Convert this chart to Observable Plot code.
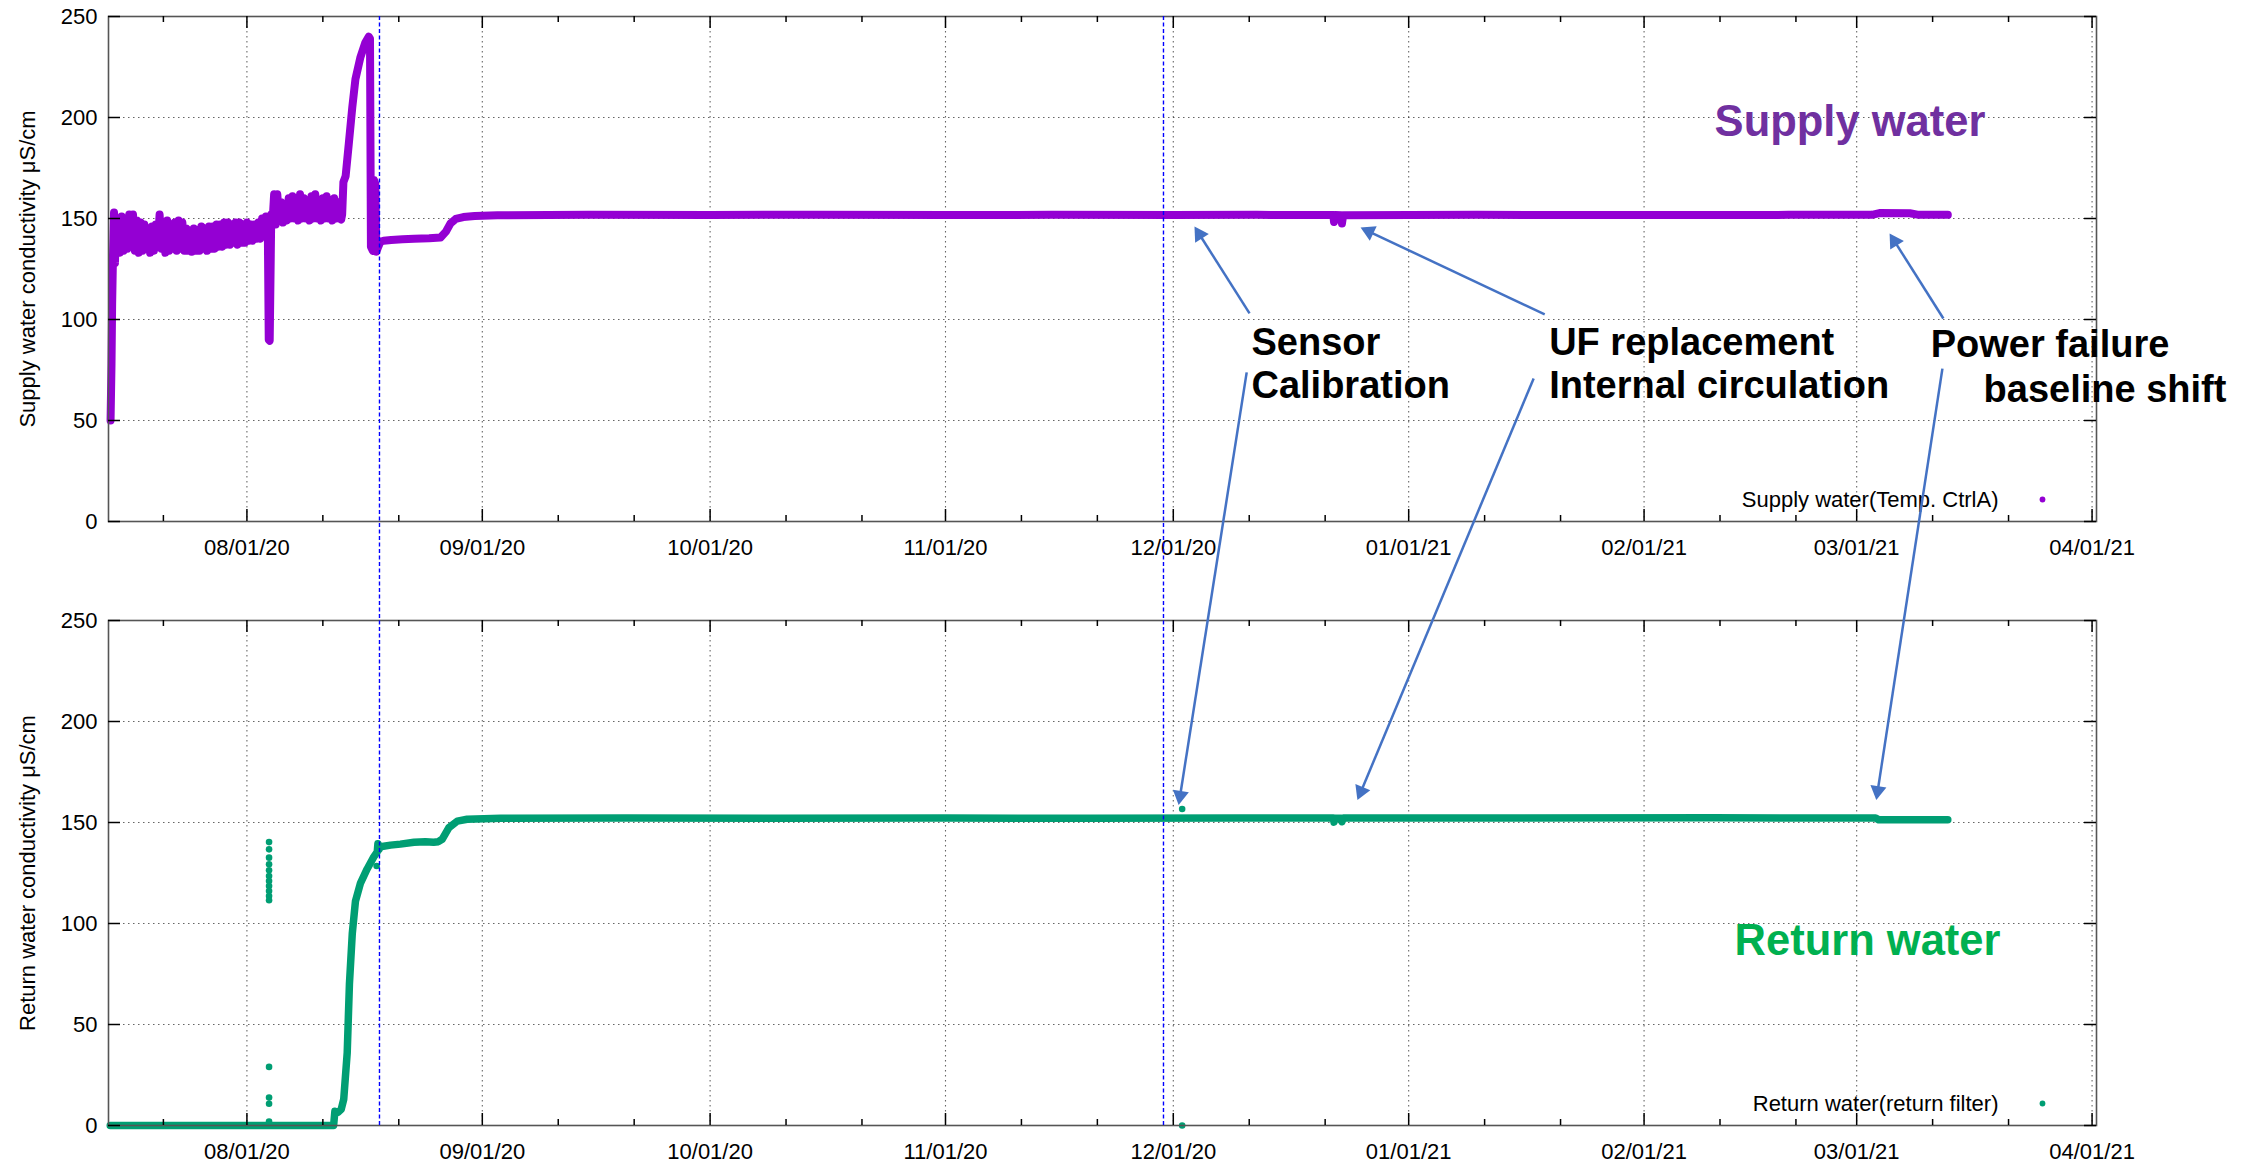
<!DOCTYPE html>
<html>
<head>
<meta charset="utf-8">
<script src="https://cdn.jsdelivr.net/npm/d3@7"></script>
<script src="https://cdn.jsdelivr.net/npm/@observablehq/plot@0.6"></script>
<style>
  html, body { margin: 0; padding: 0; background: #fff; overflow: hidden; }
  #chart { position: relative; width: 2262px; height: 1164px; }
  #chart svg { position: absolute; left: 0; top: 0; }
</style>
</head>
<body>
<div id="chart"></div>
<script>
const parseTime = d3.utcParse("%Y-%m-%d %H:%M");
const parseDay = d3.utcParse("%Y-%m-%d");

// Supply water conductivity, Temp. CtrlA sensor (µS/cm)
const supplyTime = [
  "2020-07-14 01:00","2020-07-14 04:00","2020-07-14 06:00","2020-07-14 09:00","2020-07-14 12:00","2020-07-14 15:00","2020-07-14 18:00","2020-07-14 21:00",
  "2020-07-15 00:00","2020-07-15 06:00","2020-07-15 12:00","2020-07-15 18:00",
  "2020-07-16 00:00","2020-07-16 06:00","2020-07-16 12:00","2020-07-16 18:00",
  "2020-07-17 00:00","2020-07-17 06:00","2020-07-17 12:00","2020-07-17 18:00",
  "2020-07-18 00:00","2020-07-18 06:00","2020-07-18 12:00","2020-07-18 18:00",
  "2020-07-19 00:00","2020-07-19 06:00","2020-07-19 12:00","2020-07-19 18:00",
  "2020-07-20 00:00","2020-07-20 06:00","2020-07-20 12:00","2020-07-20 18:00",
  "2020-07-21 00:00","2020-07-21 06:00","2020-07-21 12:00","2020-07-21 18:00",
  "2020-07-22 00:00","2020-07-22 06:00","2020-07-22 12:00","2020-07-22 18:00",
  "2020-07-23 00:00","2020-07-23 06:00","2020-07-23 12:00","2020-07-23 18:00",
  "2020-07-24 00:00","2020-07-24 06:00","2020-07-24 12:00","2020-07-24 18:00",
  "2020-07-25 00:00","2020-07-25 06:00","2020-07-25 12:00","2020-07-25 18:00",
  "2020-07-26 00:00","2020-07-26 06:00","2020-07-26 12:00","2020-07-26 18:00",
  "2020-07-27 00:00","2020-07-27 06:00","2020-07-27 12:00","2020-07-27 18:00",
  "2020-07-28 00:00","2020-07-28 06:00","2020-07-28 12:00","2020-07-28 18:00",
  "2020-07-29 00:00","2020-07-29 06:00","2020-07-29 12:00","2020-07-29 18:00",
  "2020-07-30 00:00","2020-07-30 06:00","2020-07-30 12:00","2020-07-30 18:00",
  "2020-07-31 00:00","2020-07-31 06:00","2020-07-31 12:00","2020-07-31 18:00",
  "2020-08-01 00:00","2020-08-01 06:00","2020-08-01 12:00","2020-08-01 18:00",
  "2020-08-02 00:00","2020-08-02 06:00","2020-08-02 12:00","2020-08-02 18:00",
  "2020-08-03 00:00","2020-08-03 06:00","2020-08-03 12:00","2020-08-03 18:00","2020-08-03 21:00",
  "2020-08-04 00:00","2020-08-04 05:00","2020-08-04 09:00","2020-08-04 14:00","2020-08-04 19:00",
  "2020-08-05 00:00","2020-08-05 06:00","2020-08-05 12:00","2020-08-05 18:00",
  "2020-08-06 00:00","2020-08-06 06:00","2020-08-06 12:00","2020-08-06 18:00",
  "2020-08-07 00:00","2020-08-07 06:00","2020-08-07 12:00","2020-08-07 18:00",
  "2020-08-08 00:00","2020-08-08 06:00","2020-08-08 12:00","2020-08-08 18:00",
  "2020-08-09 00:00","2020-08-09 06:00","2020-08-09 12:00","2020-08-09 18:00",
  "2020-08-10 00:00","2020-08-10 06:00","2020-08-10 12:00","2020-08-10 18:00",
  "2020-08-11 00:00","2020-08-11 06:00","2020-08-11 12:00","2020-08-11 18:00",
  "2020-08-12 00:00","2020-08-12 06:00","2020-08-12 12:00","2020-08-12 18:00",
  "2020-08-13 00:00","2020-08-13 06:00","2020-08-13 10:00","2020-08-13 13:00","2020-08-13 17:00",
  "2020-08-14 00:00","2020-08-14 10:00","2020-08-14 21:00","2020-08-15 07:00","2020-08-15 23:00",
  "2020-08-16 14:00","2020-08-17 01:00","2020-08-17 05:00","2020-08-17 08:00","2020-08-17 14:00","2020-08-17 18:00","2020-08-17 22:00",
  "2020-08-18 01:00","2020-08-18 07:00","2020-08-18 14:00","2020-08-19 00:00","2020-08-20 00:00","2020-08-21 12:00","2020-08-23 00:00",
  "2020-08-25 00:00","2020-08-26 12:00","2020-08-27 05:00","2020-08-27 19:00","2020-08-28 12:00","2020-08-29 12:00","2020-08-31 00:00",
  "2020-09-03 00:00","2020-09-15 00:00","2020-10-01 00:00","2020-10-15 00:00","2020-11-01 00:00","2020-11-15 00:00","2020-12-01 00:00",
  "2020-12-12 00:00","2020-12-22 02:00","2020-12-22 04:00","2020-12-22 08:00","2020-12-23 03:00","2020-12-23 05:00","2020-12-23 09:00",
  "2021-01-10 00:00","2021-02-01 00:00","2021-02-20 00:00","2021-03-03 00:00","2021-03-04 00:00","2021-03-08 00:00","2021-03-09 00:00",
  "2021-03-13 00:00"
];
const supplyValue = [
  50, 78, 108, 134, 153, 128, 150, 134,
  146, 133, 151, 134,
  149, 135, 152, 136,
  152, 134, 149, 133,
  148, 134, 147, 135,
  145, 133, 146, 134,
  147, 136, 152, 135,
  148, 133, 149, 134,
  147, 135, 148, 134,
  149, 135, 148, 134,
  145, 134, 144, 133.5,
  145, 134, 144, 134,
  146, 135, 145, 134,
  146, 135, 146, 135,
  147, 136, 147, 136,
  148, 137, 148, 137,
  147, 138, 148, 137,
  148, 138, 147, 138,
  148, 139, 147, 139,
  147, 140, 148, 140,
  150, 142, 151, 146, 90,
  89.5, 152, 148, 162, 147,
  162, 149, 158, 148,
  157, 149, 160, 150,
  161, 150, 159, 149,
  162, 150, 160, 150,
  159, 149, 161, 150,
  162, 150, 158, 149,
  160, 150, 161, 150,
  159, 149, 160, 150,
  158, 150, 149.5, 152, 168,
  171, 187, 205, 219, 230,
  237, 240, 239, 136, 134, 169, 167,
  133.5, 136, 138.5, 139, 139.4, 139.7, 140,
  140.2, 140.6, 143.5, 147.5, 149.8, 150.7, 151.2,
  151.6, 151.8, 151.7, 151.9, 151.7, 151.8, 151.7,
  151.8, 151.7, 148.3, 151.7, 151.6, 147.5, 151.6,
  151.8, 151.7, 151.8, 151.8, 152.7, 152.6, 151.9,
  151.8
];

// Return water conductivity, return filter sensor (µS/cm)
const returnTime = [
  "2020-07-14 00:00","2020-08-12 10:00","2020-08-12 14:00","2020-08-13 00:00","2020-08-13 10:00","2020-08-13 18:00",
  "2020-08-14 05:00","2020-08-14 12:00","2020-08-14 21:00","2020-08-15 07:00","2020-08-15 23:00","2020-08-16 20:00",
  "2020-08-17 17:00","2020-08-18 04:00","2020-08-18 06:00","2020-08-18 09:00","2020-08-18 14:00","2020-08-19 22:00",
  "2020-08-21 05:00","2020-08-23 00:00","2020-08-24 12:00","2020-08-25 14:00","2020-08-26 05:00","2020-08-26 17:00",
  "2020-08-27 14:00","2020-08-28 17:00","2020-08-30 00:00","2020-09-03 10:00","2020-09-20 00:00","2020-10-10 00:00",
  "2020-11-01 00:00","2020-11-20 00:00","2020-12-10 00:00","2020-12-22 02:00","2020-12-22 04:00","2020-12-22 08:00",
  "2020-12-23 03:00","2020-12-23 05:00","2020-12-23 09:00","2021-01-15 00:00","2021-02-10 00:00","2021-03-03 12:00",
  "2021-03-03 22:00","2021-03-13 00:00"
];
const returnValue = [
  0, 0, 7, 6.5, 8, 13,
  36, 70, 95, 111, 120, 127,
  133, 135.5, 139.5, 136.5, 138, 138.8,
  139.3, 140.2, 140.5, 140.2, 140.5, 141.7,
  147.4, 150.7, 151.6, 152.1, 152.2, 152.1,
  152.2, 152.1, 152.2, 152.2, 150.2, 152.1,
  152.1, 150.4, 152.2, 152.2, 152.3, 152.2,
  151.3, 151.3
];

// Isolated return-water readings
const returnSpotTime = [
  "2020-08-03 22:00","2020-08-03 22:00","2020-08-03 22:00","2020-08-03 22:00","2020-08-03 22:00","2020-08-03 22:00",
  "2020-08-03 22:00","2020-08-03 22:00","2020-08-03 22:00","2020-08-03 22:00","2020-08-03 22:00","2020-08-03 22:00",
  "2020-08-03 22:00","2020-08-03 22:00","2020-08-03 22:00","2020-08-18 02:00","2020-12-02 04:00","2020-12-02 04:00"
];
const returnSpotValue = [
  140.3, 136.7, 132.6, 129.3, 126.3, 123.5,
  121, 118.6, 116.1, 113.6, 111.5, 29,
  13.8, 10.8, 1.9, 128.5, 156.7, 0
];

// Dates marked by the dashed vertical lines
const eventTime = ["2020-08-18 11:00", "2020-11-29 17:00"];

// Axis ticks
const monthTicks = ["2020-08-01","2020-09-01","2020-10-01","2020-11-01","2020-12-01","2021-01-01","2021-02-01","2021-03-01","2021-04-01"];
const monthLabels = ["08/01/20","09/01/20","10/01/20","11/01/20","12/01/20","01/01/21","02/01/21","03/01/21","04/01/21"];
const yTicks = [0, 50, 100, 150, 200, 250];
const yGrid = [50, 100, 150, 200];

// Callouts: arrows from the notes to the events they describe
const arrowFromTime = ["2020-12-11 01:00","2021-01-18 22:00","2021-03-12 10:00","2020-12-10 16:00","2021-01-17 11:00","2021-03-12 07:00"];
const arrowFromValue = [103, 102.5, 100.5, 73.8, 70.8, 75.7];
const arrowToTime = ["2020-12-03 19:00","2020-12-25 16:00","2021-03-05 08:00","2020-12-01 17:00","2020-12-25 06:00","2021-03-03 14:00"];
const arrowToValue = [146, 145.5, 142.6, 158.7, 161.1, 161.1];
const arrowToPanel = ["supply","supply","supply","return","return","return"];

const noteText = ["Sensor","Calibration","UF replacement","Internal circulation","Power failure","baseline shift"];
const noteTime = ["2020-12-11 07:00","2020-12-11 07:00","2021-01-19 12:00","2021-01-19 12:00","2021-03-10 18:00","2021-03-17 17:00"];
const noteValue = [82.2, 60.9, 82.2, 60.9, 81.3, 59.1];

// ---- layout ----
const W = 2262, H = 1164;
const FRAME_LEFT = 108, FRAME_RIGHT = 2096;
const TOP = {top: 16, bottom: 521};
const BOT = {top: 620, bottom: 1125};
const FRAME_W = FRAME_RIGHT - FRAME_LEFT;
const FRAME_H = TOP.bottom - TOP.top;
const pxPerUnit = FRAME_H / 250;
const panelShift = (BOT.top - TOP.top) / pxPerUnit;   // return-panel value offset in supply-panel units

const xDomain = [parseTime("2020-07-13 18:30"), parseTime("2021-04-01 14:00")];
const FONT = "'Liberation Sans', Arial, sans-serif";
const SUPPLY = "#9400d3", RETURN = "#009e73", ARROW = "#4472c4";

const months = monthTicks.map(parseDay);
const labelOf = new Map(months.map((m, i) => [+m, monthLabels[i]]));
const minorTicks = [parseDay("2020-07-21")].concat(
  months.slice(0, -1).flatMap(m => [d3.utcDay.offset(m, 10), d3.utcDay.offset(m, 20)])
);

const supplyRows = supplyTime.map((t, i) => ({time: parseTime(t), value: supplyValue[i]}));
const returnRows = returnTime.map((t, i) => ({time: parseTime(t), value: returnValue[i]}));
const spotRows = returnSpotTime.map((t, i) => ({time: parseTime(t), value: returnSpotValue[i]}));
const eventRows = eventTime.map(parseTime);

// pixel scales matching the panel geometry, used to orient the arrowheads
const xPix = d3.scaleUtc(xDomain, [FRAME_LEFT, FRAME_RIGHT]);
const yPix = d3.scaleLinear([0, 250], [TOP.bottom, TOP.top]);
const HEAD_R = 6;
const headOffset = 2 * Math.sqrt(Math.PI * HEAD_R * HEAD_R / (3 * Math.sqrt(3)));
const arrowRows = arrowFromTime.map((t, i) => {
  const t1 = parseTime(t), v1 = arrowFromValue[i];
  const t2 = parseTime(arrowToTime[i]);
  const v2 = arrowToPanel[i] === "return" ? arrowToValue[i] - panelShift : arrowToValue[i];
  const x1 = xPix(t1), y1 = yPix(v1), x2 = xPix(t2), y2 = yPix(v2);
  const len = Math.hypot(x2 - x1, y2 - y1);
  const ux = (x2 - x1) / len, uy = (y2 - y1) / len;
  const cx = x2 - ux * headOffset, cy = y2 - uy * headOffset;
  return {
    t1, v1,
    tc: xPix.invert(cx), vc: yPix.invert(cy),
    angle: Math.atan2(ux, -uy) * 180 / Math.PI
  };
});
const noteRows = noteText.map((s, i) => ({text: s, time: parseTime(noteTime[i]), value: noteValue[i]}));

function panelMarks(frame, opts) {
  const innerH = frame.bottom - frame.top;
  return [
    Plot.ruleX(months, {x: d => d, stroke: "#000", strokeOpacity: 0.6, strokeWidth: 1.1, strokeDasharray: "1.5,3.5"}),
    Plot.ruleY(yGrid, {y: d => d, stroke: "#000", strokeOpacity: 0.6, strokeWidth: 1.1, strokeDasharray: "1.5,3.5"}),
    ...opts.data,
    Plot.frame({stroke: "#555", strokeWidth: 1.6}),
    Plot.tickX(months, {x: d => d, insetTop: innerH - 12, strokeWidth: 1.5}),
    Plot.tickX(months, {x: d => d, insetBottom: innerH - 12, strokeWidth: 1.5}),
    Plot.tickX(minorTicks, {x: d => d, insetTop: innerH - 6, strokeWidth: 1.5}),
    Plot.tickX(minorTicks, {x: d => d, insetBottom: innerH - 6, strokeWidth: 1.5}),
    Plot.tickY(yTicks, {y: d => d, insetRight: FRAME_W - 12, strokeWidth: 1.5}),
    Plot.tickY(yTicks, {y: d => d, insetLeft: FRAME_W - 12, strokeWidth: 1.5}),
    Plot.axisX(months, {tickSize: 0, tickPadding: 18, tickFormat: d => labelOf.get(+d), label: null, fontSize: 22}),
    Plot.axisY(yTicks, {tickSize: 0, tickPadding: 11, label: null, fontSize: 22}),
    Plot.text([opts.yLabel], {text: d => d, frameAnchor: "left", rotate: -90, dx: -81, textAnchor: "middle", lineAnchor: "middle", fontSize: 22}),
    Plot.text([opts.legend], {text: d => d, frameAnchor: "bottom-right", dx: -98, dy: -22, textAnchor: "end", lineAnchor: "middle", fontSize: 22}),
    Plot.dot([opts.legend], {frameAnchor: "bottom-right", dx: -54, dy: -22, r: 2.9, fill: opts.color, stroke: "none"}),
    Plot.text([opts.title], {text: d => d, x: () => opts.titleAt[0], y: () => opts.titleAt[1], textAnchor: "start", lineAnchor: "bottom",
      fontSize: 43.5, fontWeight: "bold", fill: opts.titleColor})
  ];
}

function panelPlot(frame, marks) {
  return Plot.plot({
    width: W, height: H,
    marginLeft: FRAME_LEFT, marginRight: W - FRAME_RIGHT,
    marginTop: frame.top, marginBottom: H - frame.bottom,
    x: {type: "utc", domain: xDomain, axis: null},
    y: {domain: [0, 250], axis: null},
    style: {fontFamily: FONT, fontSize: "22px", background: "transparent", overflow: "visible", color: "#000"},
    marks
  });
}

// Return water panel (drawn first, underneath)
const returnPlot = panelPlot(BOT, panelMarks(BOT, {
  yLabel: "Return water conductivity μS/cm",
  legend: "Return water(return filter)",
  color: RETURN,
  title: "Return water", titleColor: "#00b050",
  titleAt: [parseTime("2021-02-12 22:00"), 84.3],
  data: [
    Plot.line(returnRows, {x: "time", y: "value", stroke: RETURN, strokeWidth: 7.5, strokeLinejoin: "round", strokeLinecap: "round"}),
    Plot.dot(spotRows, {x: "time", y: "value", r: 3.3, fill: RETURN, stroke: "none"})
  ]
}));

// Supply water panel, carrying the event lines and callouts across both panels
const supplyPlot = panelPlot(TOP, [
  ...panelMarks(TOP, {
    yLabel: "Supply water conductivity μS/cm",
    legend: "Supply water(Temp. CtrlA)",
    color: SUPPLY,
    title: "Supply water", titleColor: "#7030a0",
    titleAt: [parseTime("2021-02-10 07:00"), 190.7],
    data: [
      Plot.line(supplyRows, {x: "time", y: "value", stroke: SUPPLY, strokeWidth: 8, strokeLinejoin: "round", strokeLinecap: "round"})
    ]
  }),
  Plot.text(noteRows, {x: "time", y: "value", text: "text", textAnchor: "start", lineAnchor: "bottom", fontSize: 38, fontWeight: "bold", fill: "#000"}),
  Plot.ruleX(eventRows, {x: d => d, y1: 250, y2: -panelShift, stroke: "#0000ff", strokeWidth: 1.4, strokeDasharray: "4,2.5"}),
  Plot.link(arrowRows, {x1: "t1", y1: "v1", x2: "tc", y2: "vc", stroke: ARROW, strokeWidth: 2.5}),
  Plot.dot(arrowRows, {x: "tc", y: "vc", symbol: "triangle", r: HEAD_R, rotate: "angle", fill: ARROW, stroke: "none"})
]);

const chart = document.getElementById("chart");
chart.appendChild(returnPlot);
chart.appendChild(supplyPlot);
</script>
</body>
</html>
